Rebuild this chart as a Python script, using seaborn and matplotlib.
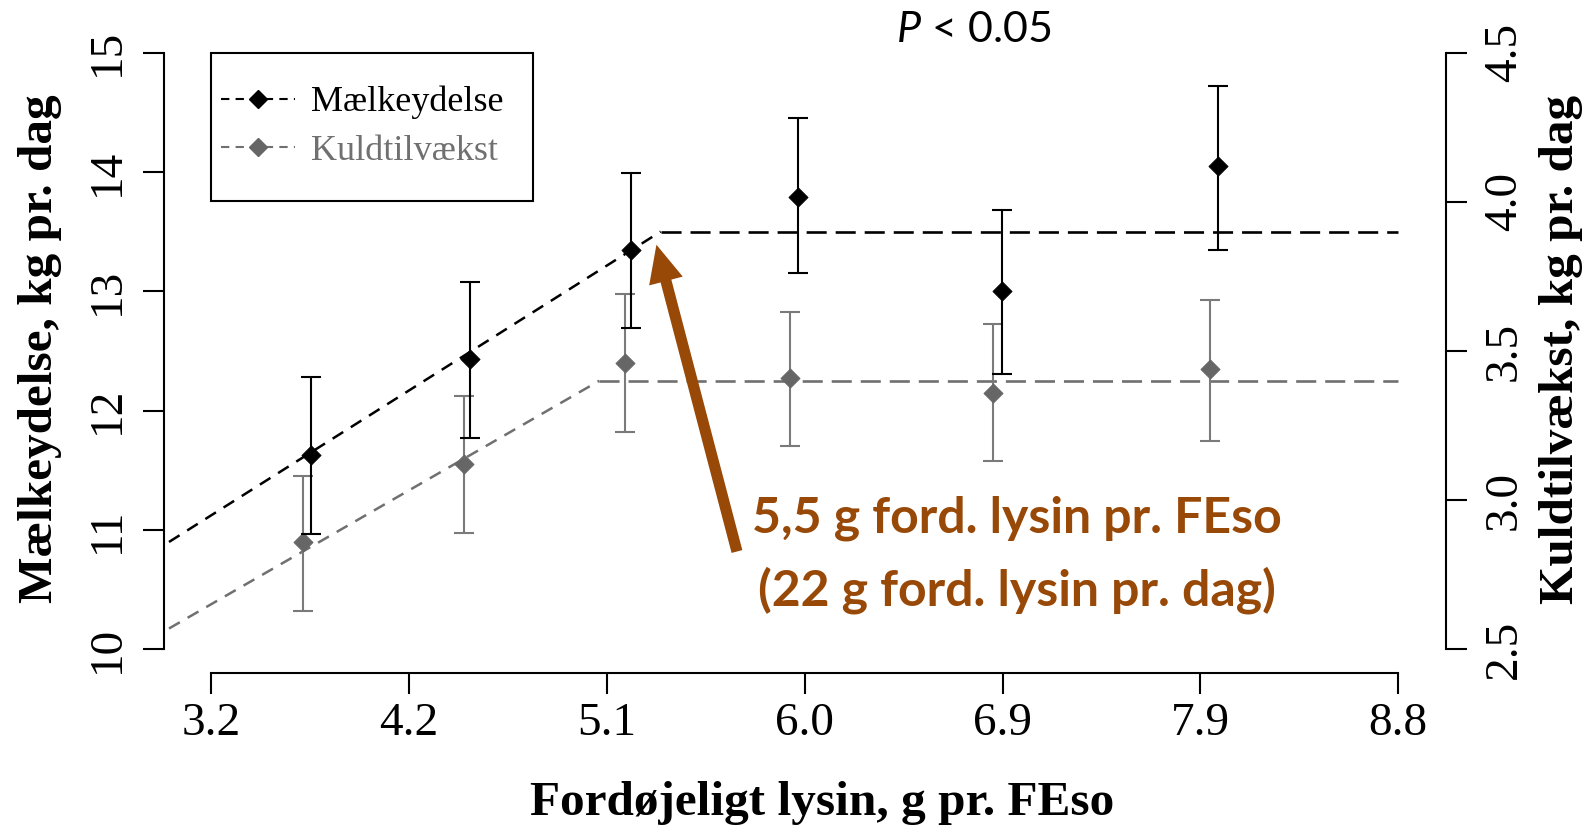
import matplotlib.pyplot as plt
import numpy as np
import seaborn as sns
from matplotlib.lines import Line2D
from matplotlib.patches import Rectangle

sns.set_theme(style="white")
plt.rcParams["font.family"] = ["Liberation Serif", "DejaVu Serif"]
plt.rcParams["text.color"] = "black"
plt.rcParams["axes.labelcolor"] = "black"
plt.rcParams["mathtext.fontset"] = "custom"
plt.rcParams["mathtext.it"] = "Lato:italic"
plt.rcParams["mathtext.rm"] = "Lato"

# vaerdier aflaest fra figuren
X_TICK_LABELS = ["3.2", "4.2", "5.1", "6.0", "6.9", "7.9", "8.8"]
LEFT_TICKS = [10, 11, 12, 13, 14, 15]
RIGHT_TICKS = [2.5, 3.0, 3.5, 4.0, 4.5]

MILK_X = [3.67, 4.42, 5.18, 5.97, 6.93, 7.95]
MILK_MEAN = [11.63, 12.43, 13.35, 13.79, 13.00, 14.05]
MILK_LO = [10.97, 11.77, 12.69, 13.15, 12.31, 13.35]
MILK_HI = [12.28, 13.08, 13.99, 14.45, 13.68, 14.72]

LITTER_X = [3.63, 4.39, 5.15, 5.93, 6.89, 7.91]
LITTER_MEAN = [2.86, 3.12, 3.46, 3.41, 3.36, 3.44]
LITTER_LO = [2.63, 2.89, 3.23, 3.18, 3.13, 3.20]
LITTER_HI = [3.08, 3.35, 3.69, 3.63, 3.59, 3.67]

# knaekket linje (start, knaek, slut)
MILK_FIT_X = [3.0, 5.32, 8.8]
MILK_FIT_Y = [10.90, 13.50, 13.50]
LITTER_FIT_X = [3.0, 5.03, 8.8]
LITTER_FIT_Y = [2.57, 3.40, 3.40]

ARROW_TIP = (5.30, 13.39)
ARROW_TAIL = (5.68, 10.82)
NOTE_POS = (7.0, 10.79)
NOTE = "5,5 g ford. lysin pr. FEso\n(22 g ford. lysin pr. dag)"

BROWN = "#984807"
GREY_MARK = "#666666"
GREY_BAR = "#7a7a7a"
GREY_LINE = "#707070"


def draw_fit(ax, xs, ys, color):
    # stigning og plateau tegnes hver for sig
    sns.lineplot(x=xs[:2], y=ys[:2], ax=ax, color=color, lw=1.8,
                 linestyle=(0, (5, 3.6)), zorder=1)
    sns.lineplot(x=xs[1:], y=ys[1:], ax=ax, color=color, lw=1.9,
                 linestyle=(0, (7.6, 3.4)), zorder=1)


def draw_points(ax, xs, mean, lo, hi, mark_color, bar_color):
    mean = np.array(mean)
    yerr = [mean - np.array(lo), np.array(hi) - mean]
    ax.errorbar(xs, mean, yerr=yerr, fmt="none", ecolor=bar_color,
                elinewidth=1.5, capsize=7.5, capthick=1.5, zorder=2)
    sns.scatterplot(x=xs, y=mean, ax=ax, marker="D", s=95, color=mark_color,
                    edgecolor=mark_color, linewidth=0.6, zorder=3)


fig = plt.figure(figsize=(15.96, 8.31), dpi=100)
ax = fig.add_axes([0.1027, 0.1898, 0.8031, 0.7757])
ax2 = ax.twinx()
ax.set_zorder(ax2.get_zorder() + 1)
ax.patch.set_visible(False)

draw_fit(ax2, LITTER_FIT_X, LITTER_FIT_Y, GREY_LINE)
draw_points(ax2, LITTER_X, LITTER_MEAN, LITTER_LO, LITTER_HI, GREY_MARK, GREY_BAR)
draw_fit(ax, MILK_FIT_X, MILK_FIT_Y, "black")
draw_points(ax, MILK_X, MILK_MEAN, MILK_LO, MILK_HI, "black", "black")

ax.set_xlim(2.976, 9.024)
ax.set_ylim(9.8, 15.2)
ax2.set_ylim(2.42, 4.58)

xt = np.linspace(3.2, 8.8, len(X_TICK_LABELS))
ax.set_xticks(xt, X_TICK_LABELS)
ax.set_yticks(LEFT_TICKS, [str(v) for v in LEFT_TICKS])
ax2.set_yticks(RIGHT_TICKS, [f"{v:.1f}" for v in RIGHT_TICKS])

for s in ["top", "right"]:
    ax.spines[s].set_visible(False)
for s in ["top", "left", "bottom"]:
    ax2.spines[s].set_visible(False)
ax.spines["left"].set_bounds(10, 15)
ax.spines["bottom"].set_bounds(3.2, 8.8)
ax2.spines["right"].set_bounds(2.5, 4.5)
for sp in [ax.spines["left"], ax.spines["bottom"], ax2.spines["right"]]:
    sp.set_linewidth(1.5)
    sp.set_color("black")

ax.tick_params(axis="x", bottom=True, direction="out", length=15, width=1.5,
               color="black", labelsize=34, labelcolor="black", pad=6)
ax.tick_params(axis="y", left=True, direction="out", length=15, width=1.5,
               color="black", labelsize=34, labelcolor="black", pad=10,
               labelrotation=90)
ax2.tick_params(axis="y", right=True, direction="out", length=15, width=1.5,
                color="black", labelsize=34, labelcolor="black", pad=12,
                labelrotation=90)
for t in ax.get_yticklabels() + ax2.get_yticklabels():
    t.set_va("center")

ax.set_xlabel("Fordøjeligt lysin, g pr. FEso", fontsize=35.5, fontweight="bold",
              va="center", color="black")
ax.xaxis.set_label_coords(0.5134, -0.2012)
ax.set_ylabel("Mælkeydelse, kg pr. dag", fontsize=35.5, fontweight="bold",
              va="center", color="black")
ax.yaxis.set_label_coords(-0.0967, 0.503)
ax2.set_ylabel("Kuldtilvækst, kg pr. dag", fontsize=35.5, fontweight="bold",
               va="center", rotation=90, color="black")
ax2.yaxis.set_label_coords(1.090, 0.503)

# legend uden ramme + separat rektangel
handles = [
    Line2D([], [], color="black", lw=1.5, linestyle=(0, (4, 3)), marker="D",
           markersize=9, markerfacecolor="black", markeredgecolor="black"),
    Line2D([], [], color=GREY_LINE, lw=1.5, linestyle=(0, (4, 3)), marker="D",
           markersize=9, markerfacecolor=GREY_MARK, markeredgecolor=GREY_MARK),
]
leg = ax.legend(handles, ["Mælkeydelse", "Kuldtilvækst"], loc="center left",
                bbox_to_anchor=(0.0443, 0.8475), frameon=False, fontsize=26,
                borderpad=0, borderaxespad=0, handlelength=2.06,
                handletextpad=0.43, labelspacing=0.42)
leg.get_texts()[0].set_color("black")
leg.get_texts()[1].set_color(GREY_LINE)
ax.add_patch(Rectangle((0.0365, 0.7332), 0.2514, 0.2296, transform=ax.transAxes,
                       fill=False, lw=1.5, ec="black", clip_on=False, zorder=5))

ax.annotate("", xy=ARROW_TIP, xytext=ARROW_TAIL,
            arrowprops=dict(arrowstyle="simple,head_length=2.7,head_width=2.5,tail_width=0.8",
                            mutation_scale=10, color=BROWN, lw=0,
                            shrinkA=0, shrinkB=0), zorder=6)
ax.text(NOTE_POS[0], NOTE_POS[1], NOTE, ha="center", va="center",
        multialignment="center", family="Lato", fontweight="bold", fontsize=36,
        color=BROWN, linespacing=1.65, zorder=6)

fig.text(0.6103, 0.9639, r"$P$ < 0.05", ha="center", va="center",
         family="Lato", fontsize=31, color="black")

fig.savefig("out.png", dpi=100)
